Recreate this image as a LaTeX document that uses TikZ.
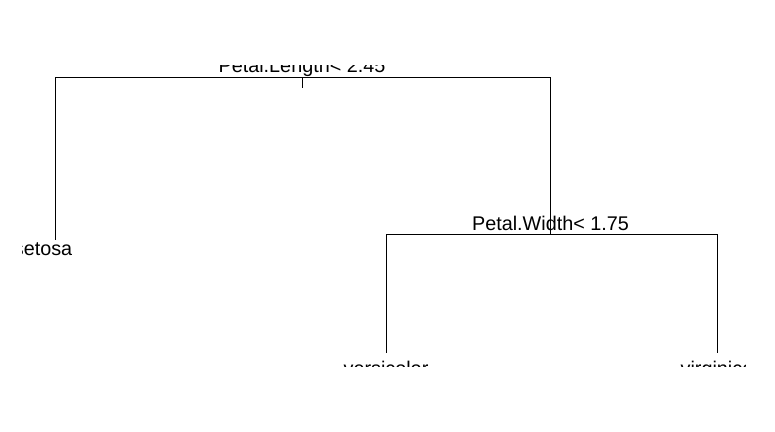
\documentclass[tikz,border=0pt]{standalone}
\usepackage{fontspec}
\setmainfont{Liberation Sans}
\usetikzlibrary{positioning}
\tikzset{
  split-label/.style={anchor=base,inner sep=0pt,
    font=\fontsize{14.85}{16}\selectfont},
  leaf-label/.style={split-label},
  branch/.style={draw=black,line width=0.75pt},
}

\begin{document}
\begin{tikzpicture}[x=0.75pt,y=-0.75pt]
  \useasboundingbox (0,0) rectangle (775,432);
  % tree nodes
  \coordinate (root) at (302,77);
  \coordinate (rootTick) at (302,88);
  \coordinate (setosa) at (55,240);
  \coordinate (width) at (550,234);
  \coordinate (versi) at (386,353);
  \coordinate (virgi) at (717,353);
  \draw[branch] (root) -| (setosa);
  \draw[branch] (root) -| (width);
  \draw[branch] (root) -- (rootTick);
  \draw[branch] (width) -| (versi);
  \draw[branch] (width) -| (virgi);
  % labels, clipped to the plot region
  \begin{scope}
    \clip (22.5,65) rectangle (745,366);
    \node[split-label] (rootLabel) at (302,72.5) {Petal.Length< 2.45};
    \node[split-label] (widthLabel) at (550.5,230.5) {Petal.Width< 1.75};
    \node[leaf-label,anchor=base east] (setosaLabel) at (72.5,255.5) {setosa};
    \node[leaf-label] (versiLabel) at (386,375.5) {versicolor};
    \node[leaf-label] (virgiLabel) at (717,375.5) {virginica};
  \end{scope}
\end{tikzpicture}
\end{document}
